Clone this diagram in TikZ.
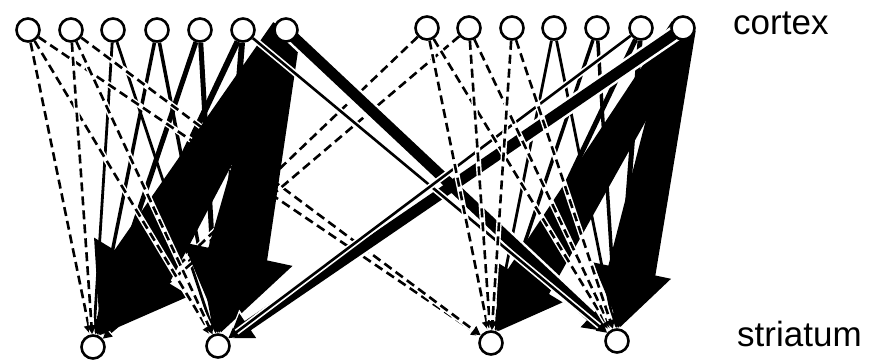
\documentclass[tikz,border=0pt]{standalone}
\usepackage{fontspec}
\setmainfont{Liberation Sans}
\usetikzlibrary{calc,arrows.meta}

\tikzset{
  unit/.style={circle, draw, line width=2.6pt, fill=white, minimum size=23pt, inner sep=0pt},
  lbl/.style={anchor=base west, inner sep=0pt, font=\fontsize{35}{40}\selectfont},
  casing/.style={draw=white, line width=#1},
  dline/.style={line width=2.6pt, dash pattern=on 9pt off 5pt,
                -{Triangle[length=9pt,width=9pt]}},
  sline/.style={line width=#1, -{Triangle[length=5pt 2, width=5pt 2.2]}},
}

% connector with a white casing underneath: style, source, target, casing width
\newcommand{\casedlink}[4]{%
  \draw[casing=#4] (#2) -- (#3);
  \draw[#1] (#2) -- (#3);
}

% filled heavy arrow: colour, source, target, half width at source,
% half width at head base, half width of head, head length, tip distance
\newcommand{\wedgearrow}[8]{%
  \path ($(#3)!#8!(#2)$) coordinate (wtip);
  \path ($(wtip)!#7!(#2)$) coordinate (wbase);
  \fill[#1] ($(#2)!#4!90:(wtip)$) -- ($(wbase)!#5!90:(wtip)$) -- ($(wbase)!#6!90:(wtip)$)
     -- (wtip) -- ($(wbase)!#6!-90:(wtip)$) -- ($(wbase)!#5!-90:(wtip)$)
     -- ($(#2)!#4!-90:(wtip)$) -- cycle;
}

\begin{document}
\begin{tikzpicture}[x=1pt,y=-1pt]
\useasboundingbox (0,0) rectangle (869,363);

% node placeholders (outlines drawn last)
\foreach \n/\x in {L1/28,L2/71,L3/113,L4/157,L5/200,L6/243,L7/286}
  \node[unit, draw=none, fill=none] (\n) at (\x,30) {};
\foreach \n/\x in {R1/427,R2/469,R3/512,R4/554,R5/597,R6/641,R7/683}
  \node[unit, draw=none, fill=none] (\n) at (\x,28) {};
\node[unit, draw=none, fill=none] (S1) at (93,347) {};
\node[unit, draw=none, fill=none] (S2) at (218,346) {};
\node[unit, draw=none, fill=none] (S3) at (491,343) {};
\node[unit, draw=none, fill=none] (S4) at (617,341) {};

% solid local connections (beneath the wedges)
\draw[sline=2.8pt] (L3) -- (S1);
\draw[sline=2.8pt] (L3) -- (S2);
\draw[sline=3.5pt] (L4) -- (S1);
\draw[sline=3.5pt] (L4) -- (S2);
\draw[sline=5pt] (L5) -- (S1);
\draw[sline=5pt] (L5) -- (S2);
\draw[sline=6pt] (L6) -- (S1);
\draw[sline=6pt] (L6) -- (S2);
\draw[sline=2.8pt] (R4) -- (S3);
\draw[sline=2.8pt] (R4) -- (S4);
\draw[sline=3.5pt] (R5) -- (S3);
\draw[sline=3.5pt] (R5) -- (S4);
\draw[sline=5pt] (R6) -- (S3);
\draw[sline=5pt] (R6) -- (S4);

% long dashed cross connections
\casedlink{dline}{L1}{S3}{5.5pt}
\casedlink{dline}{L2}{S3}{5.5pt}
\casedlink{dline}{R1}{S1}{5.5pt}
\casedlink{dline}{R2}{S1}{5.5pt}

% big tapered arrows
\wedgearrow{black}{L7}{S1}{15pt}{32pt}{56pt}{80pt}{14pt}
\wedgearrow{black}{L7}{S2}{15pt}{30pt}{56pt}{80pt}{14pt}
\wedgearrow{black}{R7}{S3}{13pt}{24pt}{40pt}{58pt}{14pt}
\wedgearrow{black}{R7}{S4}{13pt}{24pt}{40pt}{58pt}{14pt}

% thick cross connections (white casing, then black body)
\wedgearrow{white}{L7}{S4}{8pt}{8pt}{18pt}{26pt}{12pt}
\wedgearrow{white}{R7}{S2}{8pt}{8pt}{18pt}{26pt}{12pt}
\wedgearrow{black}{L7}{S4}{5.5pt}{5.5pt}{15pt}{22pt}{14pt}
\wedgearrow{black}{R7}{S2}{5.5pt}{5.5pt}{15pt}{22pt}{14pt}

% thin solid cross connections
\casedlink{sline=2.6pt}{L6}{S4}{6pt}
\casedlink{sline=2.6pt}{R6}{S2}{6pt}

% dashed local connections
\casedlink{dline}{L1}{S1}{5.5pt}
\casedlink{dline}{L1}{S2}{5.5pt}
\casedlink{dline}{L2}{S1}{5.5pt}
\casedlink{dline}{L2}{S2}{5.5pt}
\casedlink{dline}{R1}{S3}{5.5pt}
\casedlink{dline}{R1}{S4}{5.5pt}
\casedlink{dline}{R2}{S3}{5.5pt}
\casedlink{dline}{R2}{S4}{5.5pt}
\casedlink{dline}{R3}{S3}{5.5pt}
\casedlink{dline}{R3}{S4}{5.5pt}

% units drawn on top
\foreach \n in {L1,L2,L3,L4,L5,L6,L7,R1,R2,R3,R4,R5,R6,R7,S1,S2,S3,S4}
  \node[unit] at (\n) {};

\node[lbl] (cx) at (733,35) {cortex};
\node[lbl] (st) at (737,346) {striatum};
\end{tikzpicture}
\end{document}
